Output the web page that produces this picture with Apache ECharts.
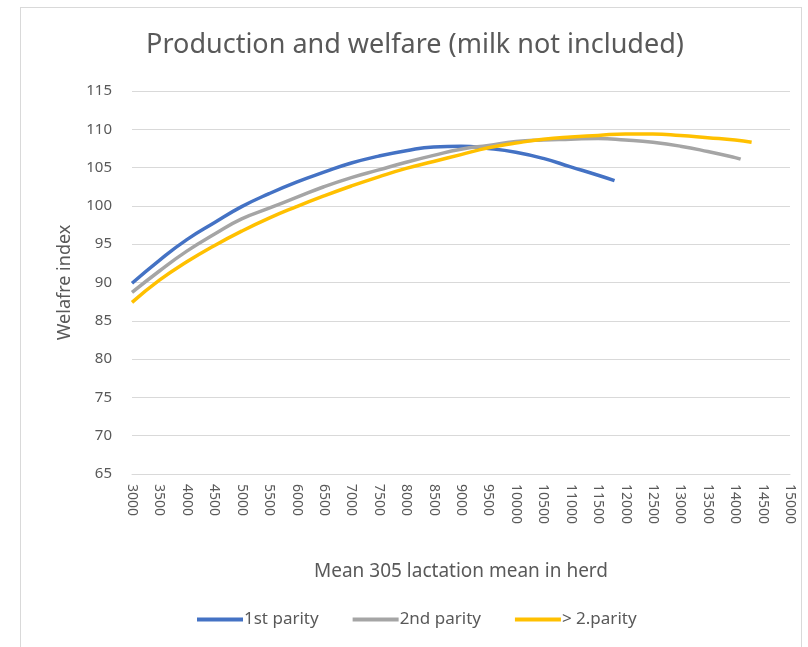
<!DOCTYPE html>
<html>
<head>
<meta charset="utf-8">
<script src="https://cdn.jsdelivr.net/npm/echarts@6/dist/echarts.min.js"></script>
<style>
  html, body { margin: 0; padding: 0; background: #fff; }
  #frame { position: absolute; left: 20px; top: 7px; width: 782px; height: 660px;
           border: 1px solid #d9d9d9; box-sizing: border-box; }
  #chart { position: absolute; left: 0; top: 0; width: 808px; height: 647px; }
</style>
</head>
<body>
<div id="frame"></div>
<div id="chart"></div>
<script>
// milk yield (kg) at which each curve was read
const xFirst = [3000, 3500, 4000, 4500, 5000, 5500, 6000, 6500, 7000, 7500, 8000, 8500, 9000, 9500, 10000, 10500, 11000, 11500, 11800]
const yFirst = [89.9, 92.9, 95.6, 97.8, 99.9, 101.6, 103.1, 104.4, 105.6, 106.5, 107.2, 107.7, 107.8, 107.5, 107.0, 106.2, 105.1, 104.0, 103.3]

const xSecond = [3000, 3500, 4000, 4500, 5000, 5500, 6000, 6500, 7000, 7500, 8000, 8500, 9000, 9500, 10000, 10500, 11000, 11500, 12000, 12500, 13000, 13500, 14000, 14100]
const ySecond = [88.7, 91.5, 94.1, 96.3, 98.3, 99.7, 101.1, 102.5, 103.7, 104.7, 105.7, 106.6, 107.4, 107.9, 108.4, 108.6, 108.7, 108.8, 108.6, 108.3, 107.8, 107.1, 106.3, 106.1]

const xLater = [3000, 3500, 4000, 4500, 5000, 5500, 6000, 6500, 7000, 7500, 8000, 8500, 9000, 9500, 10000, 10500, 11000, 11500, 12000, 12500, 13000, 13500, 14000, 14300]
const yLater = [87.4, 90.3, 92.7, 94.8, 96.7, 98.4, 99.9, 101.3, 102.6, 103.8, 104.9, 105.8, 106.7, 107.6, 108.2, 108.7, 109.0, 109.2, 109.4, 109.4, 109.2, 108.9, 108.6, 108.3]

const seriesNames = ['1st parity', '2nd parity', '> 2.parity']
const seriesColors = ['#4472c4', '#a5a5a5', '#ffc000']

function pairs (xs, ys) {
  return xs.map((x, i) => [x, ys[i]])
}

const txt = '#595959'
const font = 'Noto Sans'

const chart = echarts.init(document.getElementById('chart'))
chart.setOption({
  animation: false,
  textStyle: { fontFamily: font },
  title: {
    text: 'Production and welfare (milk not included)',
    left: 410,
    textAlign: 'center',
    top: 27,
    textStyle: { fontFamily: font, fontSize: 27, fontWeight: 'normal', color: txt }
  },
  legend: {
    bottom: 14,
    left: 192,
    itemGap: 34,
    itemWidth: 46,
    itemHeight: 4,
    icon: 'rect',
    textStyle: { fontFamily: font, fontSize: 17, color: txt, padding: [0, 0, 0, -4] },
    data: seriesNames
  },
  grid: { left: 132, right: 18, top: 91, bottom: 173 },
  xAxis: {
    type: 'value',
    min: 3000,
    max: 15000,
    interval: 500,
    name: 'Mean 305 lactation mean in herd',
    nameLocation: 'middle',
    nameGap: 88,
    nameTextStyle: { fontFamily: font, fontSize: 19, color: txt },
    axisLine: { show: true, lineStyle: { color: '#d9d9d9' } },
    axisTick: { show: false },
    splitLine: { show: false },
    axisLabel: {
      rotate: -90, color: txt, fontFamily: font, fontSize: 14, margin: 10,
      formatter: v => String(v)
    }
  },
  yAxis: {
    type: 'value',
    min: 65,
    max: 115,
    interval: 5,
    name: 'Welafre index',
    nameLocation: 'middle',
    nameGap: 58,
    nameTextStyle: { fontFamily: font, fontSize: 18, color: txt },
    axisLine: { show: false },
    axisTick: { show: false },
    splitLine: { lineStyle: { color: '#d9d9d9' } },
    axisLabel: { color: txt, fontFamily: font, fontSize: 15, margin: 20 }
  },
  series: [
    { name: seriesNames[0], data: pairs(xFirst, yFirst) },
    { name: seriesNames[1], data: pairs(xSecond, ySecond) },
    { name: seriesNames[2], data: pairs(xLater, yLater) }
  ].map((s, i) => ({
    name: s.name,
    type: 'line',
    smooth: true,
    showSymbol: false,
    color: seriesColors[i],
    lineStyle: { width: 3.5, color: seriesColors[i] },
    data: s.data
  }))
})
</script>
</body>
</html>
